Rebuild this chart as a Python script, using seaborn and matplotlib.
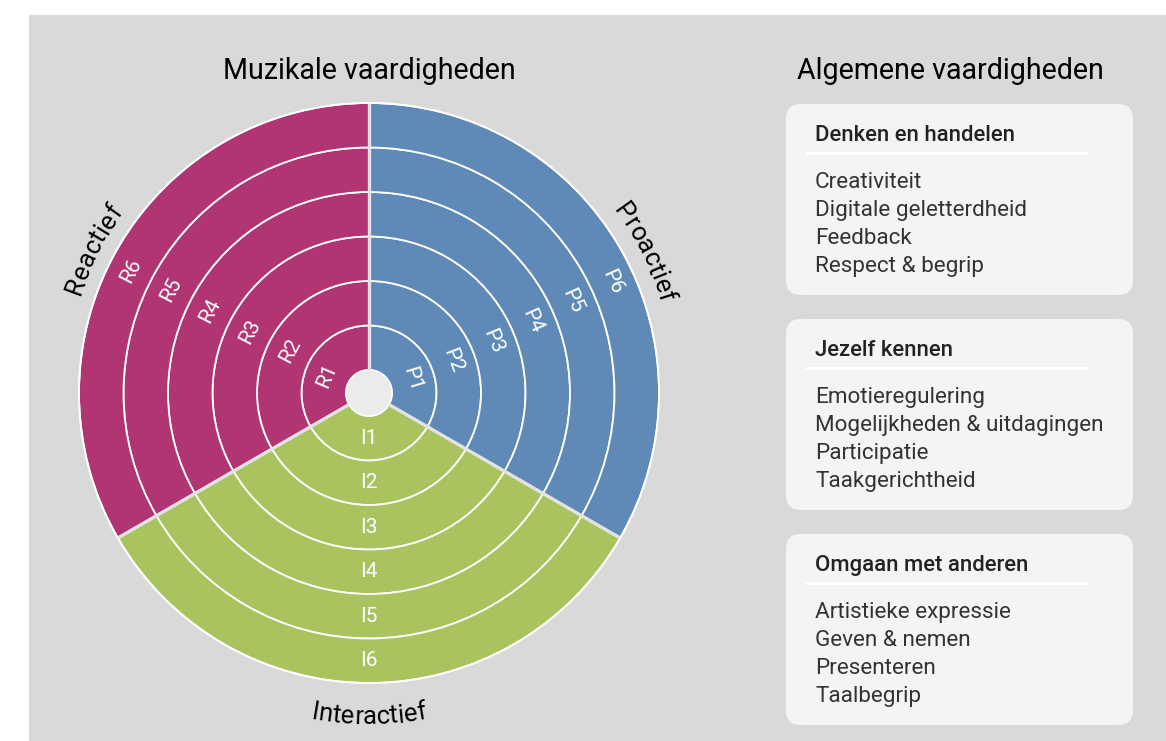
import numpy as np
import matplotlib
matplotlib.use("Agg")
import matplotlib.pyplot as plt
from matplotlib.patches import Wedge, Circle, FancyBboxPatch, Rectangle
from matplotlib.font_manager import FontProperties
import seaborn as sns

# ---- data ----
sectors = ["Proactief", "Reactief", "Interactief"]
prefixes = ["P", "R", "I"]
levels = [1, 2, 3, 4, 5, 6]

groups = ["Denken en handelen", "Jezelf kennen", "Omgaan met anderen"]
skills_denken = ["Creativiteit", "Digitale geletterdheid", "Feedback", "Respect & begrip"]
skills_jezelf = ["Emotieregulering", "Mogelijkheden & uitdagingen", "Participatie", "Taakgerichtheid"]
skills_omgaan = ["Artistieke expressie", "Geven & nemen", "Presenteren", "Taalbegrip"]
group_skills = [skills_denken, skills_jezelf, skills_omgaan]

# ---- style / layout ----
sns.set_theme(style="white")
plt.rcParams["font.family"] = ["Roboto", "DejaVu Sans"]
palette = sns.color_palette(["#5f8ab8", "#b03572", "#a9c45f"])
sector_span = {"Proactief": (-30, 90), "Reactief": (90, 210), "Interactief": (210, 330)}
label_angles = {
    "P": [17, 21, 22.5, 23.8, 24.4, 24.5],
    "R": [157, 152, 152.7, 152.7, 152.4, 152.8],
    "I": [270] * 6,
}
title_arc = {"Proactief": (27, 305, "cw"), "Reactief": (152.5, 305, "cw"),
             "Interactief": (270, 331, "ccw")}

W, H = 1166, 741
cx, cy = 369, 393
r_hole, r_out = 23, 290
ring_w = (r_out - r_hole) / len(levels)

fig = plt.figure(figsize=(W / 100, H / 100), dpi=100)
ax = fig.add_axes([0, 0, 1, 1])
ax.set_xlim(0, W)
ax.set_ylim(H, 0)
ax.axis("off")

ax.add_patch(Rectangle((29, 15), W - 29, H - 15, facecolor="#d9d9d9", edgecolor="none"))


def pos(theta, r):
    t = np.radians(theta)
    return cx + r * np.cos(t), cy - r * np.sin(t)


# rings
for name, pre, col in zip(sectors, prefixes, palette):
    a, b = sector_span[name]
    for k, lev in enumerate(levels):
        ro = r_hole + (k + 1) * ring_w
        ax.add_patch(Wedge((cx, cy), ro, -b, -a, width=ring_w,
                           facecolor=col, edgecolor="white", lw=1.3))
        th = label_angles[pre][k]
        x, y = pos(th, ro - ring_w / 2)
        rot = 0 if pre == "I" else th - 90
        ax.text(x, y, f"{pre}{lev}", color="white", fontsize=15,
                rotation=rot, rotation_mode="anchor", ha="center", va="center")

ax.add_patch(Circle((cx, cy), r_out, facecolor="none", edgecolor="white", lw=1.3))
for name in sectors:
    a, _ = sector_span[name]
    x0, y0 = pos(a, r_hole)
    x1, y1 = pos(a, r_out)
    ax.plot([x0, x1], [y0, y1], color="#e3e3e3", lw=2.4, solid_capstyle="butt")
ax.add_patch(Circle((cx, cy), r_hole, facecolor="#ebebeb", edgecolor="white", lw=1))

# curved sector titles
renderer = fig.canvas.get_renderer()
fp = FontProperties(family=["Roboto", "DejaVu Sans"], size=18.5)


def text_w(s):
    if not s:
        return 0.0
    return renderer.get_text_width_height_descent(s, fp, ismath=False)[0]


for name in sectors:
    th_c, r, direction = title_arc[name]
    total = text_w(name)
    for i, ch in enumerate(name):
        s = (text_w(name[:i]) + text_w(name[:i + 1])) / 2 - total / 2
        if direction == "cw":
            th = th_c - np.degrees(s / r)
            rot = th - 90
        else:
            th = th_c + np.degrees(s / r)
            rot = th + 90
        x, y = pos(th, r)
        ax.text(x, y, ch, fontproperties=fp, color="black", rotation=rot,
                rotation_mode="anchor", ha="center", va="baseline")

# titles
ax.text(cx, 79, "Muzikale vaardigheden", fontsize=20.6, color="black",
        ha="center", va="baseline")
ax.text(950, 79, "Algemene vaardigheden", fontsize=20.6, color="black",
        ha="center", va="baseline")

# right boxes
box_x, box_w, box_h = 786, 347, 191
for gi, (grp, skills) in enumerate(zip(groups, group_skills)):
    top = 104 + gi * 215
    ax.add_patch(FancyBboxPatch((box_x + 15, top + 15), box_w - 30, box_h - 30,
                                boxstyle="round,pad=15,rounding_size=15",
                                facecolor="#f4f4f4", edgecolor="none"))
    ax.text(815, top + 37, grp, fontsize=15.9, fontweight="medium", color="#222222",
            ha="left", va="baseline")
    ax.plot([805, 1088], [top + 49, top + 49], color="white", lw=2.2,
            solid_capstyle="butt")
    for j, sk in enumerate(skills):
        ax.text(815, top + 84 + j * 28, sk, fontsize=16.2, color="#333333",
                ha="left", va="baseline")

fig.savefig("out.png", dpi=100, facecolor="white")
